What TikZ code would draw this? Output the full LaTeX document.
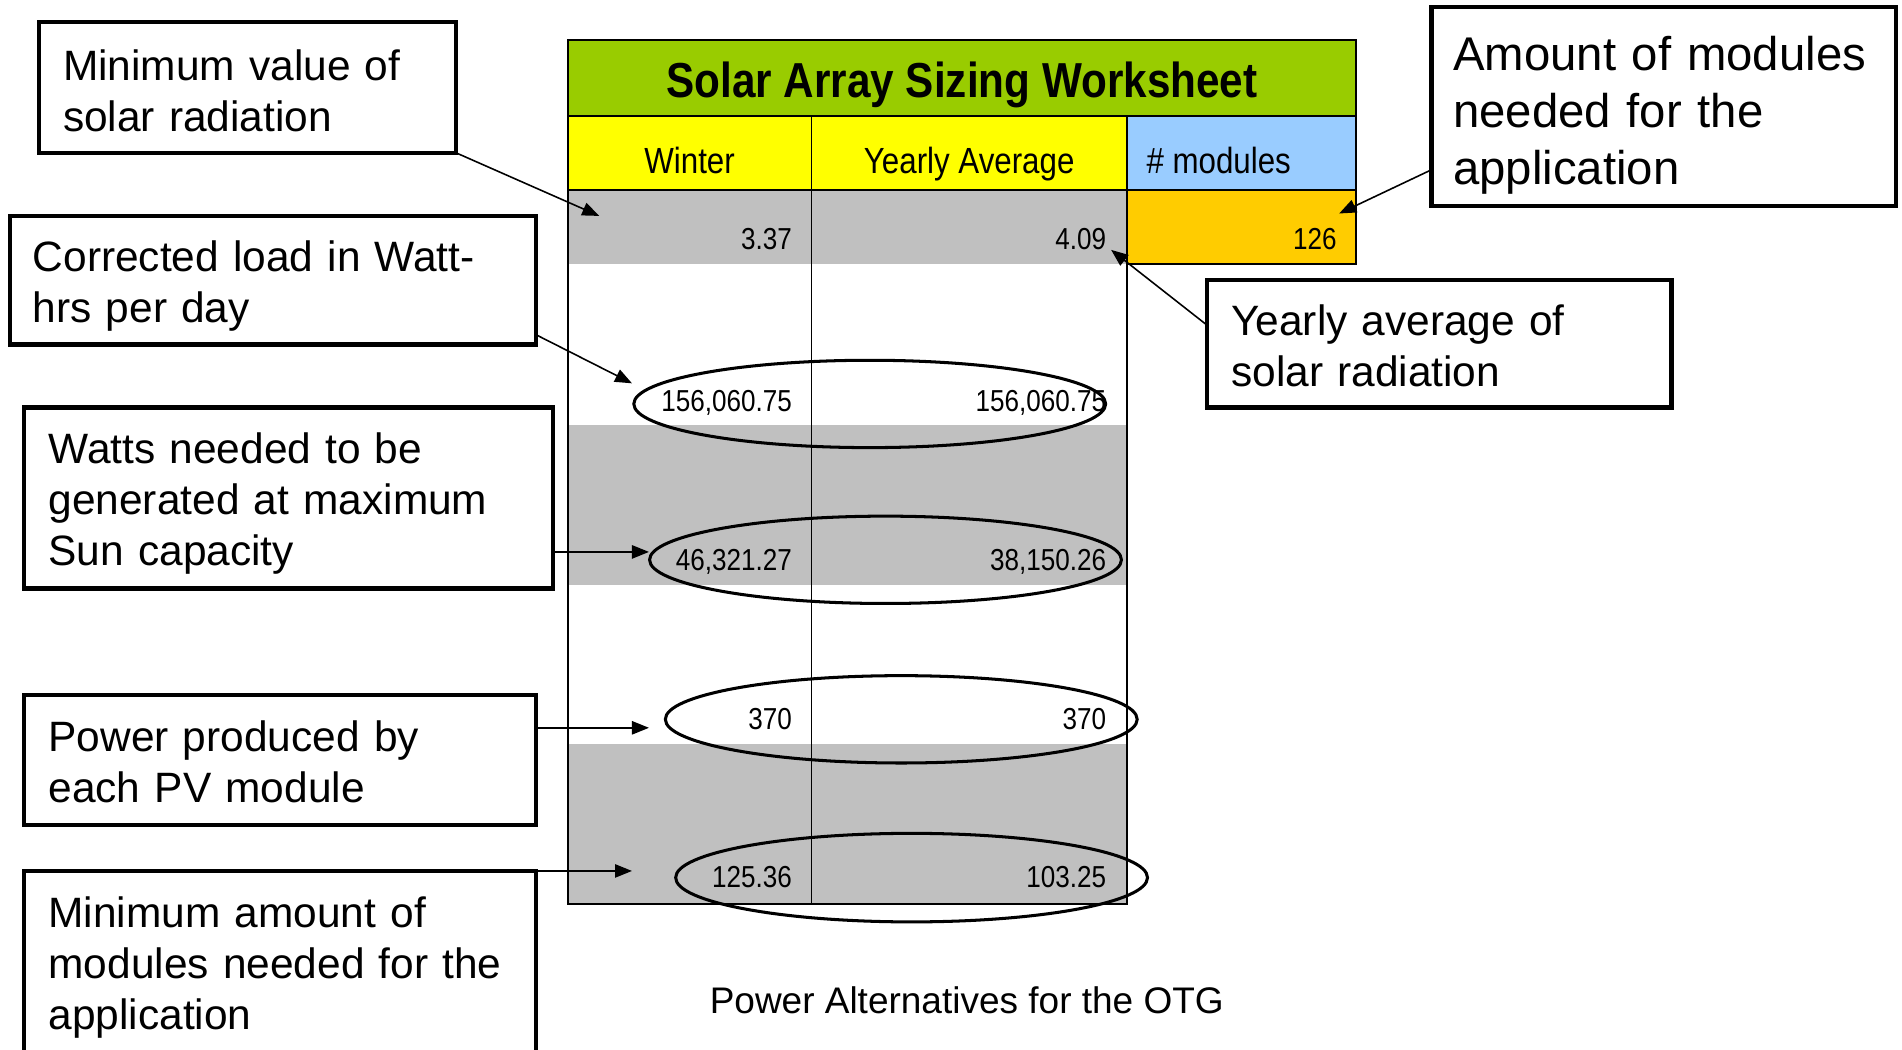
\documentclass[tikz,border=0pt]{standalone}
\usepackage{fontspec}
\setmainfont{Liberation Sans}
\newfontfamily\cellfont[FakeStretch=0.86]{Liberation Sans}
\usepackage{tikz}
\usetikzlibrary{shapes.geometric}
\usetikzlibrary{positioning}
\usetikzlibrary{arrows.meta}
\definecolor{titlegreen}{HTML}{99CC00}
\definecolor{headyellow}{HTML}{FFFF00}
\definecolor{headblue}{HTML}{99CCFF}
\definecolor{cellorange}{HTML}{FFCC00}
\definecolor{rowgray}{HTML}{C0C0C0}
\newcommand{\lift}[1]{\rule{0pt}{#1pt}}

\begin{document}
\begin{tikzpicture}[x=1pt,y=-1pt]
\tikzstyle{note}=[draw=black,line width=3.6pt,anchor=north west,outer sep=0pt,align=left,inner xsep=20pt,font=\fontsize{35}{42}\selectfont]
\tikzstyle{num}=[anchor=base east,inner sep=0pt,font=\cellfont\fontsize{25}{30}\selectfont]
\tikzstyle{head}=[anchor=base,inner sep=0pt,font=\cellfont\fontsize{30}{36}\selectfont]
\tikzstyle{ring}=[ellipse,draw=black,line width=2.5pt,minimum width=389pt,minimum height=72pt]
\tikzstyle{arr}=[line width=1.3pt,-{Triangle[length=14pt,width=11pt]}]
\tikzstyle{rule}=[line width=1.6pt]

\useasboundingbox (0,0) rectangle (1568,865);

% worksheet
\fill[rowgray] (468,157) rectangle (929,218);
\fill[rowgray] (468,350) rectangle (929,482);
\fill[rowgray] (468,613) rectangle (929,745);
\filldraw[rule,fill=titlegreen] (468,33) rectangle (1118,96);
\filldraw[rule,fill=headyellow] (468,96) rectangle (929,157);
\filldraw[rule,fill=headblue] (929,96) rectangle (1118,157);
\filldraw[rule,fill=cellorange] (929,157) rectangle (1118,218);
\draw[rule] (468,96) -- (468,745) -- (929,745) -- (929,96);
\draw[rule] (669,96) -- (669,745);

\node[anchor=base,inner sep=0pt,font=\cellfont\bfseries\fontsize{40.5}{48}\selectfont] (title) at (793,80) {Solar Array Sizing Worksheet};
\node[head] (winter) at (568.5,143) {Winter};
\node[head] (yearly) at (799,143) {Yearly Average};
\node[head,anchor=base west] (modules) at (945,143) {\# modules};

\node[num] (w1) at (653,206) {3.37};
\node[num] (y1) at (912,206) {4.09};
\node[num] (m1) at (1102,206) {126};
\node[num] (w2) at (653,339) {156,060.75};
\node[num] (y2) at (912,339) {156,060.75};
\node[num] (w3) at (653,470) {46,321.27};
\node[num] (y3) at (912,470) {38,150.26};
\node[num] (w4) at (653,601) {370};
\node[num] (y4) at (912,601) {370};
\node[num] (w5) at (653,732) {125.36};
\node[num] (y5) at (912,732) {103.25};

\node[ring] (E1) at (717,333) {};
\node[ring] (E2) at (730,461.5) {};
\node[ring] (E3) at (743,593) {};
\node[ring,minimum height=73pt] (E4) at (751.5,723.5) {};

% call-outs
\node[note,text width=304pt,minimum height=108pt] (B1) at (32,18) {\lift{31}Minimum value of\\solar radiation};
\node[note,text width=396pt,minimum height=106pt,inner xsep=19pt] (B2) at (8,178) {\lift{35}Corrected load in Watt-\\hrs per day};
\node[note,text width=396pt,minimum height=149pt] (B3) at (20,336) {\lift{35}Watts needed to be\\generated at maximum\\Sun capacity};
\node[note,text width=382pt,minimum height=107pt] (B4) at (20,573) {\lift{28}Power produced by\\each PV module};
\node[note,text width=382pt,minimum height=152pt] (B5) at (20,718) {\lift{32}Minimum amount of\\modules needed for the\\application};
\node[note,text width=347pt,minimum height=164pt,inner xsep=18pt,font=\fontsize{39}{47}\selectfont] (B6) at (1180,6) {\lift{42}Amount of modules\\needed for the\\application};
\node[note,text width=343pt,minimum height=105pt] (B7) at (995,231) {\lift{28}Yearly average of\\solar radiation};

\node[font=\fontsize{30.5}{36}\selectfont] (footer) at (797,825) {Power Alternatives for the OTG};

\coordinate (t1) at (494,178);
\coordinate (t2) at (521,316);
\coordinate (t3) at (535,455);
\coordinate (t4) at (535,600);
\coordinate (t5) at (521,718);
\coordinate (t6) at (1104,176);
\coordinate (t7) at (916,206);

\draw[arr] (B1.south east) -- (t1);
\draw[arr] (B2.south east) ++(0,-8) -- (t2);
\draw[arr] (B3.east |- t3) -- (t3);
\draw[arr] (B4.east |- t4) -- (t4);
\draw[arr] (B5.north east) -- (t5);
\draw[arr] (B6.south west) ++(0,-30) -- (t6);
\draw[arr] (B7.north west) ++(0,37) -- (t7);
\end{tikzpicture}
\end{document}
